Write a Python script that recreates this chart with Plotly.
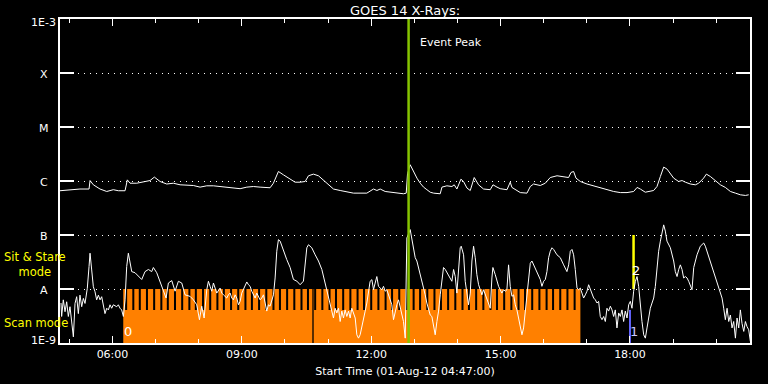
import math
import pandas as pd
import plotly.graph_objects as go

# ---------------- data ----------------
START = "2012-08-01 04:47:00"
END = "2012-08-01 20:47:00"
DAY = "2012-08-01 "

# GOES 14 long channel (1-8 A): minutes after start, flux in 1e-7 W/m^2
long_t_min = [0, 27.8, 40.4, 41.8, 46.4, 55.7, 65.0, 74.2, 81.2, 90.5, 93.7, 97.4, 106.8, 118.3,
              125.3, 131.3, 139.2, 148.5, 157.7, 167.1, 176.4, 185.6, 194.9, 204.2, 213.4, 222.7,
              232.1, 241.3, 250.6, 259.9, 269.1, 278.4, 292.3, 296.9, 303.9, 310.9, 320.2, 327.1,
              334.1, 341.1, 345.7, 352.6, 359.6, 366.5, 373.5, 380.5, 389.8, 399.1, 408.3, 426.9,
              431.6, 436.2, 440.9, 445.5, 452.4, 464.0, 477.9, 481.7, 483.5, 487.2, 491.8, 496.6,
              501.2, 505.8, 510.5, 515.1, 519.7, 529.0, 531.4, 538.3, 545.3, 548.5, 552.2, 557.8,
              561.4, 566.2, 570.8, 576.3, 582.3, 589.3, 598.6, 602.4, 608.0, 612.5, 621.9, 626.4,
              628.8, 633.4, 640.4, 649.7, 654.3, 658.9, 668.2, 675.2, 682.1, 691.5, 700.6, 707.6,
              711.0, 714.6, 717.9, 723.9, 733.2, 742.4, 751.7, 761.1, 770.3, 779.6, 788.9, 798.1,
              802.9, 807.4, 814.3, 825.9, 830.6, 835.3, 839.9, 844.6, 849.2, 853.8, 860.7, 865.5,
              870.1, 877.0, 884.0, 888.6, 895.5, 899.3, 904.9, 911.8, 918.8, 925.7, 932.7, 939.7,
              946.6, 953.6, 958.2]
long_flux_e7 = [6.6, 7.1, 7.1, 10.2, 8.5, 7.1, 6.4, 6.9, 6.6, 6.6, 10.5, 9.1, 9.1, 9.66,
                10.2, 11.8, 9.8, 8.8, 9.1, 8.5, 8.25, 8.25, 7.7, 8.15, 8.15, 7.9,
                7.7, 7.26, 7.2, 7.7, 7.9, 7.7, 7.5, 9.1, 15.0, 13.0, 10.8, 9.5,
                9.5, 9.8, 12.5, 13.4, 12.5, 10.5, 8.5, 7.1, 6.67, 6.2, 5.96, 5.96,
                6.4, 7.1, 6.67, 7.1, 6.4, 6.1, 5.8, 5.96, 13.6, 20.0, 15.0, 11.3,
                9.1, 7.7, 6.9, 6.2, 5.96, 5.8, 7.7, 8.15, 7.9, 8.5, 7.1, 10.8,
                9.8, 7.4, 6.67, 11.6, 8.5, 7.1, 6.9, 8.5, 7.7, 7.2, 6.9, 9.5,
                7.6, 6.9, 6.1, 5.96, 7.9, 8.8, 8.25, 9.1, 11.6, 12.5, 12.1, 11.6,
                14.4, 15.0, 11.3, 9.8, 8.8, 8.15, 7.4, 6.9, 6.4, 6.1, 6.1, 6.4,
                7.6, 7.1, 6.2, 6.67, 7.9, 12.1, 18.1, 16.6, 13.6, 11.3, 9.8, 10.2,
                9.5, 8.8, 8.5, 9.1, 11.3, 13.4, 12.1, 10.2, 8.5, 7.6, 6.4, 5.96,
                5.55, 5.4, 5.55]

# GOES 14 short channel (0.5-4 A): minutes after start, flux in 1e-9 W/m^2
short_t_min = [1.4, 2.3, 4.6, 7.0, 9.3, 11.6, 13.9, 16.2, 18.6, 20.9, 23.2, 25.5, 27.8, 30.2,
               32.5, 34.8, 38.0, 40.4, 41.8, 44.1, 46.4, 48.7, 51.0, 53.4, 55.7, 58.0, 60.3,
               62.6, 65.0, 67.3, 69.6, 71.9, 74.2, 78.9, 81.2, 83.5, 85.8, 88.2, 90.5, 92.8,
               95.1, 99.8, 104.4, 109.0, 113.7, 118.3, 123.0, 127.6, 129.9, 134.6, 139.2,
               143.9, 147.6, 150.8, 155.5, 160.1, 164.7, 169.4, 174.0, 181.0, 185.6, 190.3,
               194.0, 197.2, 200.5, 204.2, 206.5, 208.8, 211.1, 213.5, 215.8, 218.1, 222.7,
               225.1, 227.4, 232.0, 234.3, 236.7, 239.0, 241.3, 243.6, 245.9, 248.3, 250.6,
               252.9, 255.2, 257.5, 259.9, 262.2, 264.5, 266.8, 269.1, 271.5, 273.8, 276.1,
               278.4, 280.7, 283.1, 285.4, 287.7, 290.0, 292.3, 297.0, 299.3, 301.6, 303.9,
               306.3, 308.6, 310.9, 315.5, 320.2, 324.8, 329.5, 334.1, 338.7, 341.1, 343.4,
               345.7, 350.3, 355.0, 359.6, 364.3, 368.9, 373.5, 378.2, 380.5, 382.8, 385.1,
               387.5, 389.8, 392.1, 394.4, 396.7, 399.1, 401.4, 403.7, 406.0, 408.3, 410.7,
               413.0, 415.3, 417.6, 419.9, 422.3, 424.6, 426.9, 429.2, 431.5, 433.9, 436.2,
               438.5, 440.8, 443.1, 445.5, 447.8, 450.1, 452.4, 454.7, 457.1, 459.4, 461.7,
               464.0, 466.3, 468.7, 471.0, 473.3, 475.6, 477.9, 480.3, 482.6, 487.2, 489.6,
               491.9, 494.2, 496.5, 498.8, 501.2, 503.5, 505.8, 508.1, 510.4, 512.8, 515.1,
               517.4, 519.7, 522.0, 524.4, 526.7, 529.0, 531.3, 533.6, 536.0, 538.3, 540.6,
               542.9, 545.2, 547.6, 549.9, 552.2, 554.5, 556.8, 558.2, 561.5, 563.8, 566.1,
               568.4, 570.8, 573.1, 575.4, 577.7, 580.0, 582.4, 584.7, 587.0, 589.3, 591.6,
               594.0, 596.3, 598.6, 600.9, 602.3, 605.6, 607.9, 610.2, 612.5, 614.8, 617.2,
               619.5, 621.8, 624.1, 626.4, 628.8, 631.1, 633.4, 635.7, 638.0, 640.4, 642.7,
               645.0, 647.3, 649.6, 652.0, 654.3, 656.6, 658.9, 661.3, 663.6, 665.9, 668.2,
               670.5, 672.9, 675.2, 677.5, 679.8, 682.1, 684.5, 686.8, 691.4, 696.1, 700.7,
               705.3, 707.7, 710.0, 712.3, 714.6, 716.9, 719.3, 721.6, 723.9, 726.2, 728.5,
               730.9, 733.2, 735.5, 737.8, 740.1, 742.5, 744.8, 747.1, 749.4, 751.7, 754.1,
               756.4, 758.7, 761.0, 763.3, 765.7, 768.0, 770.3, 772.6, 774.9, 777.3, 779.6,
               781.9, 784.2, 786.5, 788.9, 791.2, 793.5, 795.8, 798.1, 800.5, 802.8, 805.1,
               807.4, 809.7, 812.1, 814.4, 816.7, 819.0, 821.3, 823.7, 826.0, 828.3, 830.6,
               832.9, 835.3, 837.6, 839.9, 842.2, 844.5, 849.2, 853.8, 856.1, 858.5, 860.8,
               863.1, 865.4, 867.7, 870.1, 872.4, 874.7, 877.0, 879.3, 881.7, 884.0, 886.3,
               890.9, 895.6, 897.9, 900.2, 904.9, 909.5, 914.1, 918.8, 921.1, 923.4, 925.7,
               928.1, 930.4, 932.7, 935.0, 937.3, 939.7, 942.0, 944.3, 946.6, 948.9, 951.3,
               953.6, 955.9, 958.2, 960.5]
short_flux_e9 = [5.5, 3.1, 6.3, 3.8, 5.8, 3.1, 4.7, 2.7, 1.3, 5.4, 7.2, 3.5, 7.7, 4.7,
                 6.7, 5.4, 10.3, 26, 46, 22.5, 11, 8.9, 6.3, 7.7, 6.3, 7.2, 4.7,
                 3.5, 4.4, 4.1, 5.1, 4.4, 5.1, 4.7, 5.1, 4.4, 4.1, 3.1, 6.3, 26,
                 46, 21, 20, 17, 15, 21, 23, 21, 25, 20, 14,
                 9.1, 6.8, 12.9, 14.3, 9.1, 13.9, 12.9, 7.8, 7.3, 6.3, 5.1,
                 2.7, 4.8, 2.9, 9.7, 13.9, 11.2, 9.1, 12.9, 10.4, 8.4, 10.4,
                 8.4, 7.8, 6.8, 7.8, 8.4, 6.8, 6.3, 7.8, 6.8, 5.1, 5.9,
                 8.4, 9.7, 12, 13.5, 12, 11.2, 9.1, 7.8, 6.8, 8.4, 7.3,
                 6.3, 6.8, 7.8, 5.5, 3.9, 5.1, 4.8, 7.8, 16, 50, 82,
                 77, 62, 50, 35, 25, 15, 14, 12, 14, 33, 58,
                 66, 58, 43, 33, 23, 12.9, 7.8, 4.4, 2.9, 4.4, 3.6,
                 4.4, 2.5, 3.9, 2.9, 4.1, 3.1, 3.9, 2.9, 4.4, 3.6, 2.9,
                 1.42, 1.23, 1.42, 1.9, 2.9, 3.9, 5.5, 9.1, 13.9, 14.9, 9.7,
                 12.9, 17, 11.2, 10.4, 9.7, 11.2, 9.1, 9.7, 7.8, 6.8, 5.1,
                 2.7, 3.9, 5.1, 6.3, 4.4, 3.3, 2.5, 1.23, 88, 126, 88,
                 58, 38, 33, 25, 18.4, 13.9, 11.2, 7.8, 5.5, 4.1, 3.3,
                 3.1, 1.9, 1.42, 2.5, 3.9, 7.8, 13.9, 25, 23, 20, 18.4,
                 16, 13.9, 23, 17, 8.4, 21, 58, 62, 43, 13.9, 7.8,
                 5.1, 8.4, 33, 62, 38, 18.4, 12, 9.7, 7.8, 9.7, 7.8,
                 6.3, 5.1, 4.4, 16, 25, 18.4, 13.9, 11.2, 9.7, 8.4, 9.7,
                 9.1, 9.7, 28, 11.2, 7.3, 7.8, 5.1, 4.1, 2.9, 2.2, 1.42,
                 1.9, 3.9, 7.8, 16, 30, 33, 28, 23, 21, 17, 15,
                 11.2, 13.9, 15, 21, 38, 50, 58, 54, 43, 38, 28,
                 21, 28, 50, 54, 43, 23, 10.4, 9.7, 10.4, 8.4, 6.8,
                 7.8, 9.1, 12, 9.7, 7.8, 6.8, 6.3, 5.5, 5.9, 3.1, 2.7,
                 3.1, 2.5, 4.4, 3.9, 4.8, 4.1, 3.1, 4.1, 1.9, 3.6, 3.1,
                 4.1, 2.5, 3.9, 2.9, 5.1, 5.9, 4.4, 9.1, 13.9, 17, 11.2,
                 4.4, 2.5, 1.42, 1.23, 1.9, 2.9, 4.4, 5.5, 6.8, 11.2, 25,
                 50, 77, 118, 154, 118, 77, 58, 33, 21, 17, 23,
                 28, 23, 16, 17, 16, 13.9, 11.2, 9.7, 25, 33, 43,
                 62, 71, 62, 50, 33, 21, 13.9, 8.4, 6.8, 4.4, 2.7,
                 4.4, 2.5, 3.3, 1.9, 2.5, 1.23, 2.9, 1.9, 4.1, 2.3, 1.64,
                 2.5, 2.0, 1.76, 1.07]

# Instrument observing modes
scan_mode_interval = ["06:15", "16:51"]
raster_gaps = ["06:19", "06:29", "06:38", "06:48", "06:58", "07:08", "07:17", "07:27", "07:37",
               "07:47", "07:56", "08:06", "08:16", "08:26", "08:35", "08:45", "08:55", "09:05",
               "09:14", "09:24", "09:34", "09:44", "09:53", "10:03", "10:13", "10:23", "10:32",
               "10:42", "10:52", "11:02", "11:11", "11:21", "11:31", "11:41", "11:50", "12:00",
               "12:10", "12:20", "12:29", "12:39", "12:49", "12:59", "13:08", "13:18", "13:28",
               "13:37", "13:47", "13:57", "14:07", "14:16", "14:26", "14:36", "14:46", "14:55",
               "15:05", "15:15", "15:25", "15:34", "15:44", "15:54", "16:04", "16:13", "16:23",
               "16:33", "16:43"]
scan_break = "10:39"
sit_stare_time = "18:05"
mode1_time = "18:00"
event_peak_time = "12:52"

scan_top = 1e-8
scan_solid_top = 4.1e-9
sit_stare_range = [1e-8, 1e-7]
mode1_range = [1e-9, 4.1e-9]

y_tickvals = [1e-9, 1e-8, 1e-7, 1e-6, 1e-5, 1e-4, 1e-3]
y_ticktext = ["1E-9", "A", "B", "C", "M", "X", "1E-3"]
x_tickvals = ["06:00", "09:00", "12:00", "15:00", "18:00"]

# ---------------- build ----------------
t0 = pd.Timestamp(START)
t_end = pd.Timestamp(END)


def at(hhmm):
    return pd.Timestamp(DAY + hhmm)


long_x = [t0 + pd.to_timedelta(m, unit="min") for m in long_t_min]
long_y = [v * 1e-7 for v in long_flux_e7]
short_x = [t0 + pd.to_timedelta(m, unit="min") for m in short_t_min]
short_y = [v * 1e-9 for v in short_flux_e9]

ORANGE = "#FF8000"
GREEN = "#86C400"
YELLOW = "#FFFF00"
BLUE = "#6464FF"
FONT = "DejaVu Sans"

fig = go.Figure()

# scan-mode block
s0, s1 = at(scan_mode_interval[0]), at(scan_mode_interval[1])
fig.add_trace(go.Scatter(x=[s0, s1, s1, s0, s0], y=[1e-9, 1e-9, scan_top, scan_top, 1e-9],
                         mode="lines", fill="toself", fillcolor=ORANGE, line=dict(width=0),
                         hoverinfo="skip"))

# gaps between rasters
gx, gy = [], []
hw = pd.Timedelta(minutes=1.4)
for g in raster_gaps:
    c = at(g)
    a, b = c - hw, c + hw
    gx += [a, b, b, a, a, None]
    gy += [scan_solid_top, scan_solid_top, scan_top, scan_top, scan_solid_top, None]
c = at(scan_break)
a, b = c - pd.Timedelta(minutes=0.9), c + pd.Timedelta(minutes=0.9)
gx += [a, b, b, a, a]
gy += [1e-9, 1e-9, scan_top, scan_top, 1e-9]
fig.add_trace(go.Scatter(x=gx, y=gy, mode="lines", fill="toself", fillcolor="black",
                         line=dict(width=0), hoverinfo="skip"))

# mode markers
fig.add_trace(go.Scatter(x=[at(mode1_time)] * 2, y=mode1_range, mode="lines",
                         line=dict(color=BLUE, width=2), hoverinfo="skip"))
fig.add_trace(go.Scatter(x=[at(sit_stare_time)] * 2, y=sit_stare_range, mode="lines",
                         line=dict(color=YELLOW, width=2.5), hoverinfo="skip"))

# GOES curves
fig.add_trace(go.Scatter(x=long_x, y=long_y, mode="lines", line=dict(color="white", width=1)))
fig.add_trace(go.Scatter(x=short_x, y=short_y, mode="lines", line=dict(color="white", width=1)))

# event peak
fig.add_trace(go.Scatter(x=[at(event_peak_time)] * 2, y=[1e-9, 1e-3], mode="lines",
                         line=dict(color=GREEN, width=2.5), hoverinfo="skip"))

ann = []
ann.append(dict(x=at("13:05"), y=math.log10(3.7e-4), text="Event Peak", showarrow=False,
                xanchor="left", yanchor="middle", font=dict(color="white", size=11, family=FONT)))
ann.append(dict(x=at("06:22"), y=math.log10(1.6e-9), text="0", showarrow=False,
                xanchor="center", yanchor="middle", font=dict(color="white", size=13, family=FONT)))
ann.append(dict(x=at("18:06"), y=math.log10(1.6e-9), text="1", showarrow=False,
                xanchor="center", yanchor="middle", font=dict(color="#C8C8FF", size=13, family=FONT)))
ann.append(dict(x=at("18:09"), y=math.log10(2.2e-8), text="2", showarrow=False,
                xanchor="center", yanchor="middle", font=dict(color="white", size=13, family=FONT)))
ann.append(dict(x=-0.084, xref="paper", y=math.log10(2.9e-8), text="Sit & Stare<br>mode",
                showarrow=False, xanchor="left", yanchor="middle", align="center",
                font=dict(color=YELLOW, size=11.5, family=FONT)))
ann.append(dict(x=-0.084, xref="paper", y=math.log10(2.35e-9), text="Scan mode",
                showarrow=False, xanchor="left", yanchor="middle",
                font=dict(color=YELLOW, size=11.5, family=FONT)))
# y tick labels, centred as in the original
for v, txt in zip(y_tickvals, y_ticktext):
    shift = 3 if v == y_tickvals[0] else (-3 if v == y_tickvals[-1] else -1)
    ann.append(dict(x=-0.0232, xref="paper", y=math.log10(v), yref="y", text=txt,
                    showarrow=False, xanchor="center", yanchor="middle", yshift=shift,
                    font=dict(color="white", size=11, family=FONT)))

fig.update_layout(
    width=768, height=384,
    margin=dict(l=60, r=18, t=19, b=41, autoexpand=False),
    paper_bgcolor="black", plot_bgcolor="black",
    showlegend=False, hovermode=False,
    font=dict(family=FONT, color="white", size=11),
    title=dict(text="GOES 14 X-Rays:", x=0.5, xref="paper", y=0.974, yanchor="middle",
               font=dict(size=13, color="white", family=FONT)),
    annotations=ann,
)

fig.update_xaxes(
    type="date", range=[t0, t_end], automargin=False,
    tickvals=[at(t) for t in x_tickvals], ticktext=x_tickvals,
    ticks="inside", ticklen=7, tickwidth=1, tickcolor="white",
    showline=True, linecolor="white", linewidth=2, mirror="ticks",
    showgrid=False, zeroline=False,
    minor=dict(dtick=3600000, tick0="2012-08-01 00:00", ticks="inside", ticklen=4,
               tickcolor="white", showgrid=False),
    tickfont=dict(size=11, color="white", family=FONT),
    title=dict(text="Start Time (01-Aug-12 04:47:00)", standoff=7,
               font=dict(size=11, color="white", family=FONT)),
)
fig.update_yaxes(
    type="log", range=[-9, -3], automargin=False,
    tickvals=y_tickvals, showticklabels=False,
    ticks="inside", ticklen=14, tickwidth=2, tickcolor="white",
    showline=True, linecolor="white", linewidth=2, mirror="ticks",
    showgrid=True, gridcolor="white", gridwidth=1, griddash="1px,5px",
    zeroline=False,
)

fig.write_html("out.html", config={"displayModeBar": False},
               post_script="document.body.style.margin='0px';")
